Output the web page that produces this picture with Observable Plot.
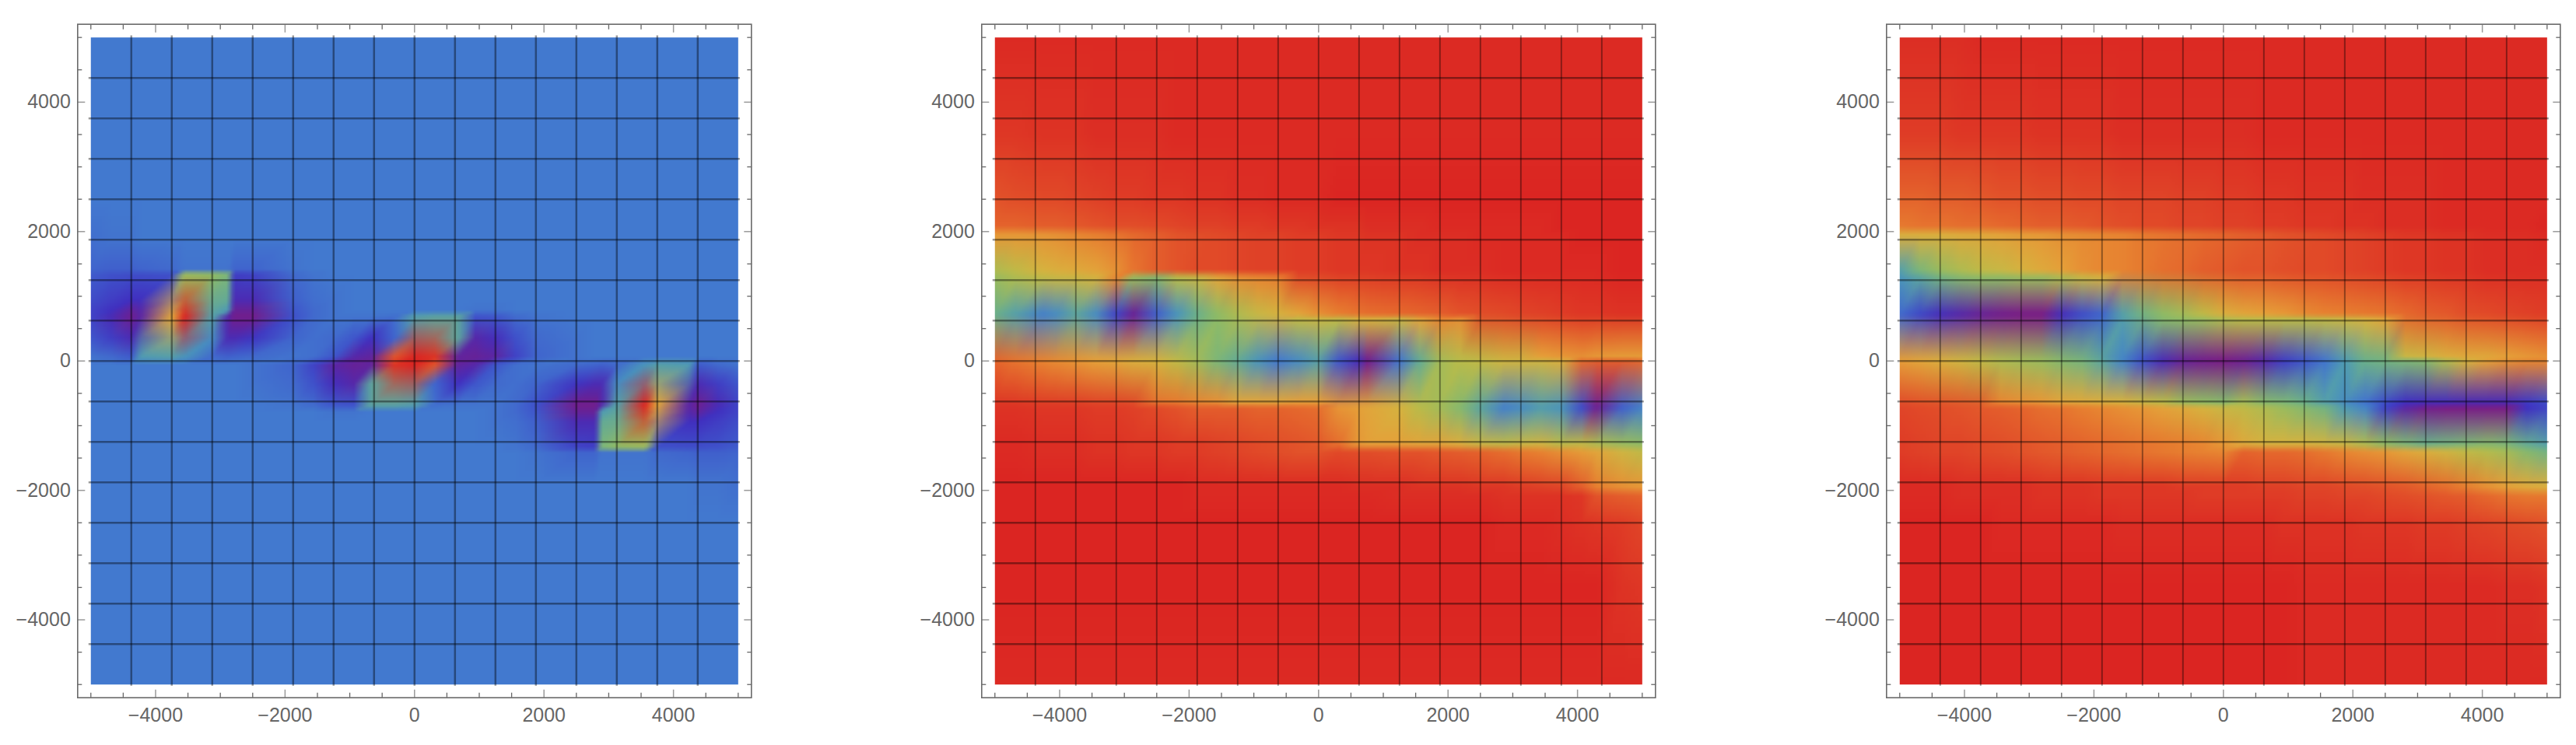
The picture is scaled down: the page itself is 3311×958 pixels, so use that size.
<!DOCTYPE html>
<html><head><meta charset="utf-8">
<script src="https://cdn.jsdelivr.net/npm/d3@7"></script>
<script src="https://cdn.jsdelivr.net/npm/@observablehq/plot@0.6"></script>
<style>html,body{margin:0;padding:0;background:#fff;width:3311px;height:958px;overflow:hidden;position:relative}</style>
</head><body>
<script>
const minorTicks=[-5000,-4500,-3500,-3000,-2500,-1500,-1000,-500,500,1000,1500,2500,3000,3500,4500,5000];
const majorTicks=[-4000,-2000,0,2000,4000];
const meshLines=[-4375,-3750,-3125,-2500,-1875,-1250,-625,0,625,1250,1875,2500,3125,3750,4375];
const colorStops=[0,10,18,25,33,42,50,58,66,74,82,90,100];
const colorRange=["#781c86","#4030c0","#3f56cb","#4279cf","#4b98b8","#6bb08a","#8fbb65","#b9bb4a","#d6b23f","#e5a039","#e77f30","#e2532a","#db2522"];
const n=null;

const xP1=[-5000,-4687,-4375,-4237,-3750,-3555,-3125,-2890,-2790,-2500,-1875,-1562,-1250,-937,-670,-312,0,312,670,937,1250,1562,1875,2500,2790,2890,3125,3555,3750,4237,4375,4687,5000];
const yP1=[5000,2500,1900,1420,1335,950,780,680,350,60,-60,-350,-680,-780,-950,-1335,-1420,-1900,-2500,-5000];
const calmP1=[25,25,25,25,25,25,25,25,25,25,25,25,25,25,25,25,25,25,25,25,25,25,25,25,25,25,25,25,25,25,25,25,25];
const fieldP1=[
calmP1,calmP1,
[23,24,24,25,25,25,25,25,25,25,25,25,25,25,25,25,25,25,25,25,25,25,25,25,25,25,25,25,25,25,25,25,25],
[21,20,20,21,22,24,24,24,21,21,24,25,25,25,25,25,25,25,25,25,25,25,25,25,25,25,25,25,25,25,25,25,25],
[19,17,16,16,17,52,50,46,13,14,22,24,25,25,25,25,25,25,25,25,25,25,25,25,25,25,25,25,25,25,25,25,25],
[16,13,10,10,n,n,n,40,8,8,20,23,24,25,25,25,25,25,25,25,25,25,25,25,25,25,25,25,25,25,25,25,25],
[14,10,4,6,n,n,n,34,3,3,18,22,24,25,25,25,25,25,25,24,24,25,25,25,25,25,25,25,25,25,25,25,25],
[14,8,2,5,72,100,36,6,1,1,17,22,24,24,24,23,36,38,38,17,18,22,24,25,25,25,25,25,25,25,25,25,25],
[18,13,8,n,n,n,30,8,8,11,21,23,22,18,10,21,n,n,38,6,9,17,22,24,25,25,25,25,25,25,25,25,25],
[24,22,19,34,36,32,22,20,21,22,24,23,18,6,4,90,100,97,4,3,5,14,21,24,25,25,25,25,25,25,25,25,25],
[25,25,25,25,25,25,25,25,25,24,21,14,5,3,4,97,100,90,4,6,18,23,24,22,21,20,22,32,36,34,19,22,24],
[25,25,25,25,25,25,25,25,25,24,22,17,9,6,38,n,n,21,10,18,22,23,21,11,8,8,30,n,n,n,8,13,18],
[25,25,25,25,25,25,25,25,25,25,24,22,18,17,38,38,36,23,24,24,24,22,17,1,1,6,36,100,72,5,2,8,14],
[25,25,25,25,25,25,25,25,25,25,25,25,24,24,25,25,25,25,25,25,24,22,18,3,3,34,n,n,n,6,4,10,14],
[25,25,25,25,25,25,25,25,25,25,25,25,25,25,25,25,25,25,25,25,24,23,20,8,8,40,n,n,n,10,10,13,16],
[25,25,25,25,25,25,25,25,25,25,25,25,25,25,25,25,25,25,25,25,25,24,22,14,13,46,50,52,17,16,16,17,19],
[25,25,25,25,25,25,25,25,25,25,25,25,25,25,25,25,25,25,25,25,25,25,24,21,21,24,24,24,22,21,20,20,21],
[25,25,25,25,25,25,25,25,25,25,25,25,25,25,25,25,25,25,25,25,25,25,25,25,25,25,25,25,25,25,24,24,23],
calmP1,calmP1];

const xP2=[-5000,-4687,-4270,-4062,-3750,-3437,-3125,-2864,-2500,-2187,-1875,-1562,-1250,-937,-625,-312,0,312,620,760,1250,1562,1875,2187,2500,2864,3125,3437,3750,4062,4290,4687,5000];
const yBands=[5000,3500,2500,2080,1950,1400,1290,725,640,60,0,-640,-725,-1290,-1400,-1950,-2080,-2500,-3500,-5000];
const fieldP2=[
[99,99,99,99,99,99,99,99,99,99,99,99,99,99,99,99,99,99,99,99,99,99,99,99,99,99,99,99,99,99,99,99,99],
[96,96,97,97,97,98,98,98,98,99,99,99,99,99,99,99,99,99,99,99,99,99,99,99,99,99,99,99,99,99,99,99,99],
[90,91,92,92,93,94,95,95,96,96,97,97,98,98,99,99,99,100,100,100,100,100,100,100,100,100,100,100,100,100,100,100,100],
[87,87,88,88,89,90,91,91,92,93,94,94,95,95,96,96,97,97,97,98,98,98,99,99,99,99,99,99,100,100,100,100,100],
[76,76,77,78,80,82,84,86,88,90,91,92,93,94,94,95,95,96,96,97,97,98,98,98,99,99,99,99,99,100,100,100,100],
[56,60,66,68,70,73,78,84,88,90,92,92,93,94,94,95,95,96,96,96,97,97,98,98,98,99,99,99,99,99,99,100,100],
[52,56,60,62,63,66,80,52,48,58,62,72,78,80,82,n,n,n,n,n,n,n,n,n,n,n,n,n,n,n,n,n,n],
[42,36,27,30,38,30,14,3,20,32,42,50,56,62,66,72,78,82,84,85,86,87,88,90,91,92,93,94,95,96,96,97,97],
[n,n,n,n,n,n,n,n,n,n,n,n,n,n,n,60,62,60,66,66,62,72,80,78,n,n,n,n,n,n,n,n,n],
[n,n,n,n,n,n,n,n,n,n,n,n,n,n,n,n,n,n,n,n,n,n,n,n,n,n,n,74,76,78,76,75,75],
[87,84,81,79,77,74,72,68,66,60,54,46,40,32,25,30,36,18,9,1,24,40,54,58,60,64,64,64,68,86,88,88,86],
[n,n,n,n,n,n,n,n,84,83,80,78,72,72,72,74,74,n,n,n,n,n,n,n,n,n,n,n,n,n,n,n,n],
[97,97,96,96,96,95,95,94,92,90,88,88,88,87,87,86,85,77,74,72,66,58,54,48,38,27,30,35,32,16,2,20,27],
[99,99,98,98,98,97,97,96,96,95,95,94,93,92,91,90,89,85,76,74,74,72,72,68,62,60,62,64,58,60,56,52,50],
[99,99,98,98,98,97,97,96,96,95,95,94,93,92,91,90,90,92,91,91,90,90,89,88,87,85,83,81,78,75,72,64,60],
[100,100,100,100,100,100,100,100,100,100,99,99,99,99,99,99,99,99,98,98,98,97,97,97,96,96,95,94,93,88,82,78,76],
[100,100,100,100,100,100,100,100,100,100,99,99,99,99,99,99,99,99,99,99,98,98,98,98,98,97,97,97,97,96,90,88,87],
[100,100,100,100,100,100,100,100,100,100,100,100,100,100,100,100,100,100,100,100,100,100,100,100,100,99,99,99,98,97,96,95,93],
[100,100,100,100,100,100,100,100,100,100,100,100,100,100,100,100,100,100,100,100,100,100,100,100,100,100,100,100,100,100,100,97,96],
[99,99,99,99,99,99,99,99,99,99,99,99,99,99,99,99,99,99,99,99,99,99,99,99,99,99,99,99,99,99,99,99,99]];

const xP3=[-5000,-4687,-4375,-4062,-3750,-3437,-3125,-2812,-2500,-2187,-1875,-1562,-1250,-937,-625,-312,0,312,625,937,1250,1562,1875,2187,2500,2812,3125,3437,3750,4062,4375,4687,5000];
const fieldP3=[
[98,98,98,98,99,99,99,99,99,99,99,99,99,99,99,99,99,99,99,99,99,99,99,99,99,99,99,99,99,99,99,99,99],
[95,95,95,96,96,96,96,97,97,97,97,98,98,98,98,98,98,98,99,99,99,99,99,99,99,99,99,99,99,99,99,99,99],
[87,87,88,88,89,90,90,91,91,92,92,93,93,93,94,94,95,95,96,96,97,97,97,98,98,98,98,99,99,99,99,99,99],
[83,84,84,85,85,86,87,88,88,89,90,91,92,92,93,93,94,94,95,95,96,96,97,97,98,98,98,99,99,99,99,99,100],
[68,68,68,70,71,73,75,76,78,79,80,81,83,84,85,86,87,88,89,90,91,92,93,94,95,96,96,97,97,98,98,98,99],
[36,46,52,56,60,62,66,70,74,78,80,81,83,85,86,88,89,90,90,91,92,92,93,94,95,96,96,97,97,98,98,98,98],
[32,38,44,48,50,50,52,52,56,62,66,n,n,n,n,n,n,n,n,n,n,n,n,n,n,n,n,n,n,n,n,n,n],
[22,15,9,6,3,1,0,0,9,16,21,36,44,50,54,60,68,72,74,76,79,81,82,83,84,86,88,89,91,92,93,94,95],
[n,n,n,n,n,n,n,n,n,n,n,n,n,48,50,52,56,58,58,58,58,60,62,66,72,n,n,n,n,n,n,n,n],
[n,n,n,n,n,n,n,n,n,n,n,n,n,n,n,n,n,n,n,n,n,n,n,n,n,62,64,68,70,71,74,76,78],
[75,72,68,64,60,56,54,52,48,45,38,28,17,8,3,1,0,2,6,13,18,24,34,42,44,46,48,56,66,74,78,80,80],
[n,n,n,n,n,80,78,76,72,70,68,66,62,58,52,50,48,54,48,46,42,36,30,24,16,10,9,9,8,8,8,12,16],
[93,92,91,90,89,88,87,85,84,82,80,78,76,73,70,66,62,60,56,52,48,44,34,28,14,5,1,0,0,0,0,10,14],
[95,94,93,93,92,91,90,89,88,87,86,85,84,83,82,80,76,70,66,66,66,64,62,56,50,46,42,44,46,48,46,40,36],
[95,94,93,93,92,91,90,89,88,87,86,85,84,83,82,81,80,87,86,86,85,83,80,78,76,72,68,64,60,57,54,48,44],
[99,99,99,98,98,98,98,97,97,97,96,96,96,96,95,95,95,95,94,94,93,93,92,91,90,89,87,85,82,78,74,70,68],
[99,99,99,98,98,98,98,97,97,97,96,96,96,96,96,95,95,95,95,95,94,94,93,93,92,91,90,89,88,86,84,83,83],
[100,100,100,100,100,99,99,99,99,99,99,98,98,98,98,98,98,98,98,97,97,97,97,96,96,96,95,95,94,93,92,91,90],
[100,100,100,100,100,100,100,100,100,100,100,100,100,100,100,100,100,100,100,100,99,99,99,99,99,99,99,99,99,99,98,98,97],
[100,100,100,100,100,100,100,100,100,100,100,100,100,100,100,100,100,100,100,100,99,99,99,99,99,99,99,99,99,99,99,99,99]];

const panels=[
 {left:0,xs:xP1,ys:yP1,field:fieldP1,vw:2.5,hw:2.4},
 {left:1162.4,xs:xP2,ys:yBands,field:fieldP2,vw:1.9,hw:2.6},
 {left:2324.7,xs:xP3,ys:yBands,field:fieldP3,vw:1.9,hw:2.6}
];
const ramp=d3.scaleLinear().domain(colorStops).range(colorRange).interpolate(d3.interpolateRgb);

function vertexColors(ys,field){
 const out=field.map(r=>r.map(v=>{if(v==null)return null;const c=d3.rgb(ramp(v));return [c.r,c.g,c.b];}));
 for(let j=0;j<out.length;j++)for(let i=0;i<out[j].length;i++){
  if(out[j][i])continue;
  let a=j-1,b=j+1;
  while(field[a][i]==null)a--;
  while(field[b][i]==null)b++;
  const t=(ys[a]-ys[j])/(ys[a]-ys[b]);
  const A=d3.rgb(ramp(field[a][i])),B=d3.rgb(ramp(field[b][i]));
  out[j][i]=[A.r+(B.r-A.r)*t,A.g+(B.g-A.g)*t,A.b+(B.b-A.b)*t];
 }
 return out;
}
function meshFill(xs,ys,field){
 const C=vertexColors(ys,field);
 return (x,y)=>{
  let i=0;while(i<xs.length-2&&x>xs[i+1])i++;
  let j=0;while(j<ys.length-2&&y<ys[j+1])j++;
  const u=Math.min(1,Math.max(0,(x-xs[i])/(xs[i+1]-xs[i])));
  const w=Math.min(1,Math.max(0,(y-ys[j+1])/(ys[j]-ys[j+1])));
  const BL=C[j+1][i],BR=C[j+1][i+1],TL=C[j][i],TR=C[j][i+1];
  const c=[0,1,2].map(k=>Math.round(w<=u ? BL[k]+u*(BR[k]-BL[k])+w*(TR[k]-BR[k]) : BL[k]+w*(TL[k]-BL[k])+u*(TR[k]-TL[k])));
  return `rgb(${c[0]},${c[1]},${c[2]})`;
 };
}
const tickGrey="#666";
const fmt=d3.format("d");
for(const p of panels){
 const chart=Plot.plot({
  width:986,height:958,marginLeft:99.3,marginRight:20.7,marginTop:30.7,marginBottom:61.3,
  style:{position:"absolute",left:p.left+"px",top:"0px",background:"transparent",fontFamily:"'Liberation Sans',Arial,sans-serif",overflow:"visible"},
  x:{domain:[-5204,5204],axis:null},
  y:{domain:[-5204,5204],axis:null},
  marks:[
   Plot.raster({fill:meshFill(p.xs,p.ys,p.field),x1:-5000,x2:5000,y1:-5000,y2:5000,pixelSize:4,imageRendering:"auto"}),
   Plot.ruleX(meshLines,{y1:-5025,y2:5025,stroke:"#000",strokeOpacity:0.4,strokeWidth:p.vw}),
   Plot.ruleY(meshLines,{x1:-5030,x2:5030,stroke:"#000",strokeOpacity:0.4,strokeWidth:p.hw}),
   Plot.axisX({anchor:"bottom",ticks:minorTicks,tickSize:-6,stroke:tickGrey,strokeWidth:1.3,fill:"none",label:null}),
   Plot.axisX({anchor:"top",ticks:minorTicks,tickSize:-6,stroke:tickGrey,strokeWidth:1.3,fill:"none",label:null}),
   Plot.axisY({anchor:"left",ticks:minorTicks,tickSize:-6,stroke:tickGrey,strokeWidth:1.3,fill:"none",label:null}),
   Plot.axisY({anchor:"right",ticks:minorTicks,tickSize:-6,stroke:tickGrey,strokeWidth:1.3,fill:"none",label:null}),
   Plot.axisX({anchor:"bottom",ticks:majorTicks,tickSize:-10,stroke:"#999",strokeWidth:1.5,fill:"none",label:null}),
   Plot.axisX({anchor:"top",ticks:majorTicks,tickSize:-10,stroke:"#999",strokeWidth:1.5,fill:"none",label:null}),
   Plot.axisY({anchor:"left",ticks:majorTicks,tickSize:-10,stroke:"#999",strokeWidth:1.5,fill:"none",label:null}),
   Plot.axisY({anchor:"right",ticks:majorTicks,tickSize:-10,stroke:"#999",strokeWidth:1.5,fill:"none",label:null}),
   Plot.axisX({anchor:"bottom",ticks:majorTicks,tickSize:0,tickPadding:13,fontSize:25,fill:tickGrey,tickFormat:fmt,label:null}),
   Plot.axisY({anchor:"left",ticks:majorTicks,tickSize:0,tickPadding:9,fontSize:25,fill:tickGrey,tickFormat:fmt,label:null}),
   Plot.frame({stroke:"#6a6a6a",strokeWidth:1.6})
  ]
 });
 document.body.appendChild(chart);
}
</script>
</body></html>
